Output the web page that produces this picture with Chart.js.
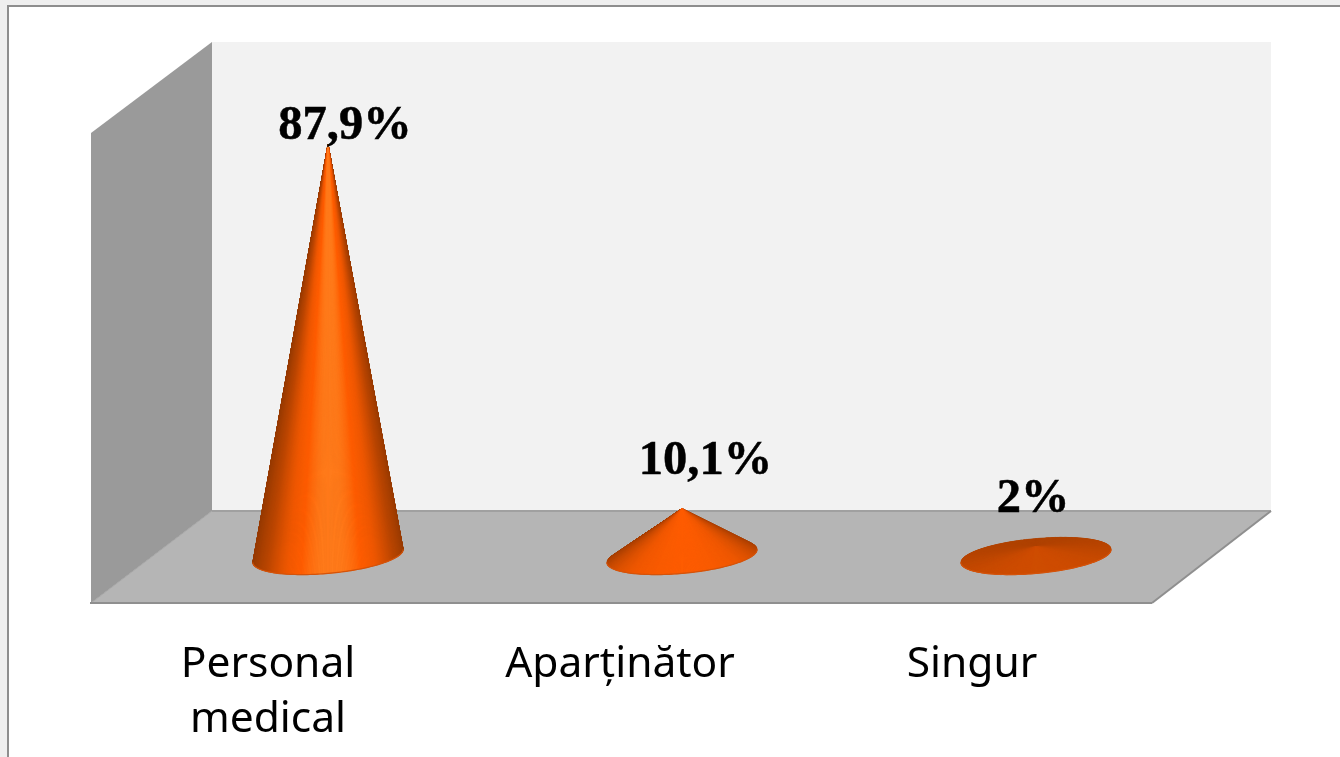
<!DOCTYPE html>
<html>
<head>
<meta charset="utf-8">
<style>html,body{margin:0;padding:0;background:#fff;overflow:hidden}canvas{display:block}</style>
<script src="https://cdn.jsdelivr.net/npm/chart.js@4"></script>
</head>
<body>
<canvas id="c" width="1340" height="757" style="width:1340px;height:757px"></canvas>
<script>
const categories = [["Personal", "medical"], "Aparținător", "Singur"];
const values = [87.9, 10.1, 2];
const valueLabels = ["87,9%", "10,1%", "2%"];

// shading ramp: lambert value -> cone colour
const RAMP = [[0.0,[150,58,0]],[0.1,[164,62,0]],[0.3,[188,70,0]],[0.6,[240,88,0]],[0.75,[255,92,0]],[0.87,[255,122,26]],[1,[255,128,32]]];
function rampColor(v){
  v = Math.max(0, Math.min(1, v));
  for (let i = 1; i < RAMP.length; i++) {
    if (v <= RAMP[i][0]) {
      const a = RAMP[i-1], b = RAMP[i], t = (v - a[0]) / (b[0] - a[0]);
      return 'rgb(' + [0,1,2].map(k => Math.round(a[1][k] + (b[1][k] - a[1][k]) * t)).join(',') + ')';
    }
  }
  return 'rgb(255,128,32)';
}

function drawCone(ctx, bar){
  const cx = bar.x, base = bar.base, tip = bar.y, R = bar.width / 2;
  const tiltY = -R * 0.087, minor = R * 0.232, H = base - tip;
  const L = [0.04, -0.9, 0.3];
  const len = Math.hypot(H, R);
  const exponent = 1 + Math.max(0, H / len - 0.55) * 2.4;
  const pt = p => [cx + R * Math.cos(p), base + tiltY * Math.cos(p) + minor * Math.sin(p)];
  const wedges = [];
  const N = 360;
  for (let i = 0; i < N; i++) {
    const p0 = i / N * 2 * Math.PI, p1 = (i + 1) / N * 2 * Math.PI, m = (p0 + p1) / 2;
    const n = [Math.cos(m) * H / len, -Math.sin(m) * H / len, R / len];
    const lam = Math.pow(Math.max(0, n[0] * L[0] + n[1] * L[1] + n[2] * L[2]), exponent);
    wedges.push({p0, p1, m, lam});
  }
  wedges.sort((a, b) => Math.sin(a.m) - Math.sin(b.m));
  ctx.save();
  ctx.beginPath();
  for (let i = 0; i <= N; i++) { const q = pt(i / N * 2 * Math.PI); i ? ctx.lineTo(q[0], q[1]) : ctx.moveTo(q[0], q[1]); }
  ctx.closePath();
  ctx.fillStyle = '#c44a00';
  ctx.fill();
  for (const w of wedges) {
    const a = pt(w.p0), b = pt(w.p1), c = rampColor(w.lam);
    ctx.beginPath();
    ctx.moveTo(cx, tip);
    ctx.lineTo(a[0], a[1]);
    ctx.lineTo(b[0], b[1]);
    ctx.closePath();
    ctx.fillStyle = c; ctx.strokeStyle = c; ctx.lineWidth = 0.7;
    ctx.fill(); ctx.stroke();
  }
  // darker rim along the near edge of the base
  ctx.beginPath();
  for (let i = 0; i <= 90; i++) { const q = pt(i / 90 * Math.PI); i ? ctx.lineTo(q[0], q[1]) : ctx.moveTo(q[0], q[1]); }
  ctx.strokeStyle = '#d4530a'; ctx.lineWidth = 1.2;
  ctx.stroke();
  ctx.restore();
}

const stage = {
  id: 'stage',
  beforeDraw(chart){
    const c = chart.ctx;
    c.save();
    c.fillStyle = '#efefef'; c.fillRect(0, 0, 1340, 757);
    c.fillStyle = '#ffffff'; c.fillRect(8, 5, 1332, 752);
    c.fillStyle = '#8e8e8e'; c.fillRect(7, 5, 2, 752); c.fillRect(7, 5, 1333, 2);
    const poly = (pts, fill) => { c.beginPath(); pts.forEach((p, i) => i ? c.lineTo(p[0], p[1]) : c.moveTo(p[0], p[1])); c.closePath(); c.fillStyle = fill; c.fill(); };
    const line = (a, b, col, w) => { c.beginPath(); c.moveTo(a[0], a[1]); c.lineTo(b[0], b[1]); c.strokeStyle = col; c.lineWidth = w; c.stroke(); };
    poly([[212,42],[1271,42],[1271,511],[212,511]], '#f2f2f2');
    poly([[212,42],[91,133],[91,603],[212,511]], '#9a9a9a');
    poly([[212,511],[1271,511],[1152,603],[91,603]], '#b5b5b5');
    line([91,603],[212,511], '#a6a6a6', 1);
    line([212,511],[1271,511], '#a0a0a0', 2);
    line([1271,511],[1152,603], '#8f8f8f', 2);
    line([90,603],[1152,603], '#8f8f8f', 2);
    c.restore();
  },
  afterDatasetsDraw(chart, args, opts){
    const c = chart.ctx, bars = chart.getDatasetMeta(0).data;
    bars.forEach(b => drawCone(c, b));
    c.save();
    c.font = 'bold 48.5px "Liberation Serif"';
    c.fillStyle = '#000';
    c.strokeStyle = '#000';
    c.lineWidth = 0.5;
    c.textAlign = 'center';
    c.textBaseline = 'alphabetic';
    bars.forEach((b, i) => {
      const x = b.x + opts.nudgeX[i], y = b.y + opts.nudgeY[i];
      c.fillText(valueLabels[i], x, y);
      c.strokeText(valueLabels[i], x, y);
    });
    c.restore();
  }
};

new Chart(document.getElementById('c').getContext('2d'), {
  type: 'bar',
  plugins: [stage],
  data: {
    labels: categories,
    datasets: [{ data: values, backgroundColor: 'rgba(0,0,0,0)', borderWidth: 0, barPercentage: 0.4266, categoryPercentage: 1 }]
  },
  options: {
    responsive: false,
    animation: false,
    devicePixelRatio: 1,
    layout: { padding: { left: 151, right: 127, top: 88, bottom: 0 } },
    plugins: {
      legend: { display: false },
      title: { display: false },
      tooltip: { enabled: false },
      stage: { nudgeX: [17, 23.5, -3], nudgeY: [-6, -35, -35] }
    },
    scales: {
      y: { display: false, min: 0, max: 100 },
      x: {
        afterFit(s){
          s.height = 201;
          const orig = Object.getPrototypeOf(s).getPixelForTick;
          s.getPixelForTick = i => orig.call(s, i) + (1 - i) * 2; // labels sit on the nearer, narrower front edge
        },
        border: { display: false },
        grid: { display: false },
        ticks: {
          color: '#000',
          font: { family: '"Noto Sans"', size: 42.5, lineHeight: 1.294 },
          padding: 73,
          labelOffset: -62,
          maxRotation: 0, minRotation: 0, autoSkip: false
        }
      }
    }
  }
});
</script>
</body>
</html>
